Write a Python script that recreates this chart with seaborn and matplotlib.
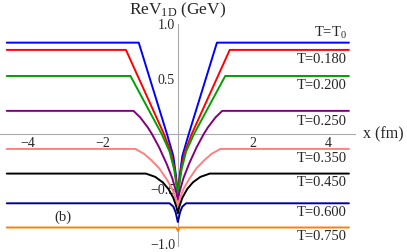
import numpy as np
import pandas as pd
import seaborn as sns
import matplotlib.pyplot as plt
from matplotlib.ticker import MultipleLocator

# right half of each (symmetric) curve: x in fm, V in GeV
x_T0 = [0.0, 0.015, 0.05, 0.12, 0.29, 1.04, 4.55]
v_T0 = [-0.57, -0.5, -0.38, -0.2, 0.0, 0.83, 0.83]
x_180 = [0.0, 0.03, 0.08, 0.18, 0.37, 1.38, 4.55]
v_180 = [-0.57, -0.47, -0.33, -0.17, 0.0, 0.764, 0.764]
x_200 = [0.0, 0.03, 0.1, 0.22, 0.43, 1.26, 4.55]
v_200 = [-0.58, -0.48, -0.32, -0.16, 0.0, 0.527, 0.527]
x_250 = [0.0, 0.05, 0.15, 0.3, 0.5, 0.69, 0.8, 1.0, 1.18, 4.55]
v_250 = [-0.6, -0.52, -0.4, -0.27, -0.12, 0.0, 0.06, 0.15, 0.21, 0.21]
x_350 = [0.0, 0.05, 0.15, 0.3, 0.5, 0.7, 0.9, 1.13, 4.55]
v_350 = [-0.65, -0.59, -0.5, -0.41, -0.31, -0.24, -0.18, -0.136, -0.136]
x_450 = [0.0, 0.04, 0.12, 0.25, 0.4, 0.6, 0.85, 4.55]
v_450 = [-0.72, -0.66, -0.58, -0.5, -0.44, -0.39, -0.36, -0.36]
x_600 = [0.0, 0.02, 0.06, 0.12, 0.22, 4.55]
v_600 = [-0.8, -0.77, -0.71, -0.66, -0.63, -0.63]
x_750 = [0.0, 0.04, 4.55]
v_750 = [-0.88, -0.85, -0.85]

labels = ["T=T$_0$", "T=0.180", "T=0.200", "T=0.250",
          "T=0.350", "T=0.450", "T=0.600", "T=0.750"]
label_y = [0.92, 0.673, 0.436, 0.109, -0.227, -0.445, -0.718, -0.936]
colors = ["#0000FF", "#FF0000", "#00A000", "#800080",
          "#FF8080", "#000000", "#0000A0", "#FF8000"]

halves = [(x_T0, v_T0), (x_180, v_180), (x_200, v_200), (x_250, v_250),
          (x_350, v_350), (x_450, v_450), (x_600, v_600), (x_750, v_750)]

sns.set_style("white")
plt.rcParams["font.family"] = ["Liberation Serif", "DejaVu Serif"]
plt.rcParams["mathtext.fontset"] = "custom"
plt.rcParams["mathtext.rm"] = "Liberation Serif"
plt.rcParams["mathtext.it"] = "Liberation Serif:italic"

fig = plt.figure(figsize=(4.07, 2.52), dpi=100)
ax = fig.add_axes([0.0, 0.023, 0.873, 0.882])

for (hx, hv), lab, c in zip(halves, labels, colors):
    hx = np.array(hx)
    hv = np.array(hv)
    df = pd.DataFrame({"x": np.concatenate([-hx[::-1], hx[1:]]),
                       "v": np.concatenate([hv[::-1], hv[1:]])})
    sns.lineplot(data=df, x="x", y="v", color=c, lw=1.4, ax=ax,
                 estimator=None, sort=False)

for lab, ly in zip(labels, label_y):
    ax.text(4.49, ly, lab, ha="right", va="center", fontsize=10.5)

ax.text(-3.06, -0.755, "(b)", ha="center", va="center", fontsize=10.5)
ax.text(0.0, 1.127, "ReV$_{\\mathrm{1D}}$ (GeV)", ha="center", va="center",
        fontsize=12.5, clip_on=False)
ax.text(4.92, 0.0, "x (fm)", ha="left", va="center", fontsize=11.5,
        clip_on=False)

ax.set_xlim(-4.73, 4.72)
ax.set_ylim(-1.02, 1.0)
ax.set_xlabel("")
ax.set_ylabel("")

for side in ["top", "right"]:
    ax.spines[side].set_visible(False)
ax.spines["left"].set_position(("data", 0))
ax.spines["bottom"].set_position(("data", 0))
for side in ["left", "bottom"]:
    ax.spines[side].set_color("#aaaaaa")
    ax.spines[side].set_linewidth(0.8)
    ax.spines[side].set_zorder(0)

ax.set_xticks([-4, -2, 2, 4])
ax.set_xticklabels(["\u22124", "\u22122", "2", "4"])
ax.xaxis.set_minor_locator(MultipleLocator(0.5))
ax.set_yticks([-1.0, -0.5, 0.5, 1.0])
ax.set_yticklabels(["\u22121.0", "\u22120.5", "0.5", "1.0"])
ax.yaxis.set_minor_locator(MultipleLocator(0.1))
ax.tick_params(which="both", direction="in", color="#aaaaaa", width=0.6,
               labelsize=10, pad=2)
ax.tick_params(which="major", length=4)
ax.tick_params(which="minor", length=2)
ax.patch.set_alpha(0)

fig.savefig("out.png", dpi=100)
